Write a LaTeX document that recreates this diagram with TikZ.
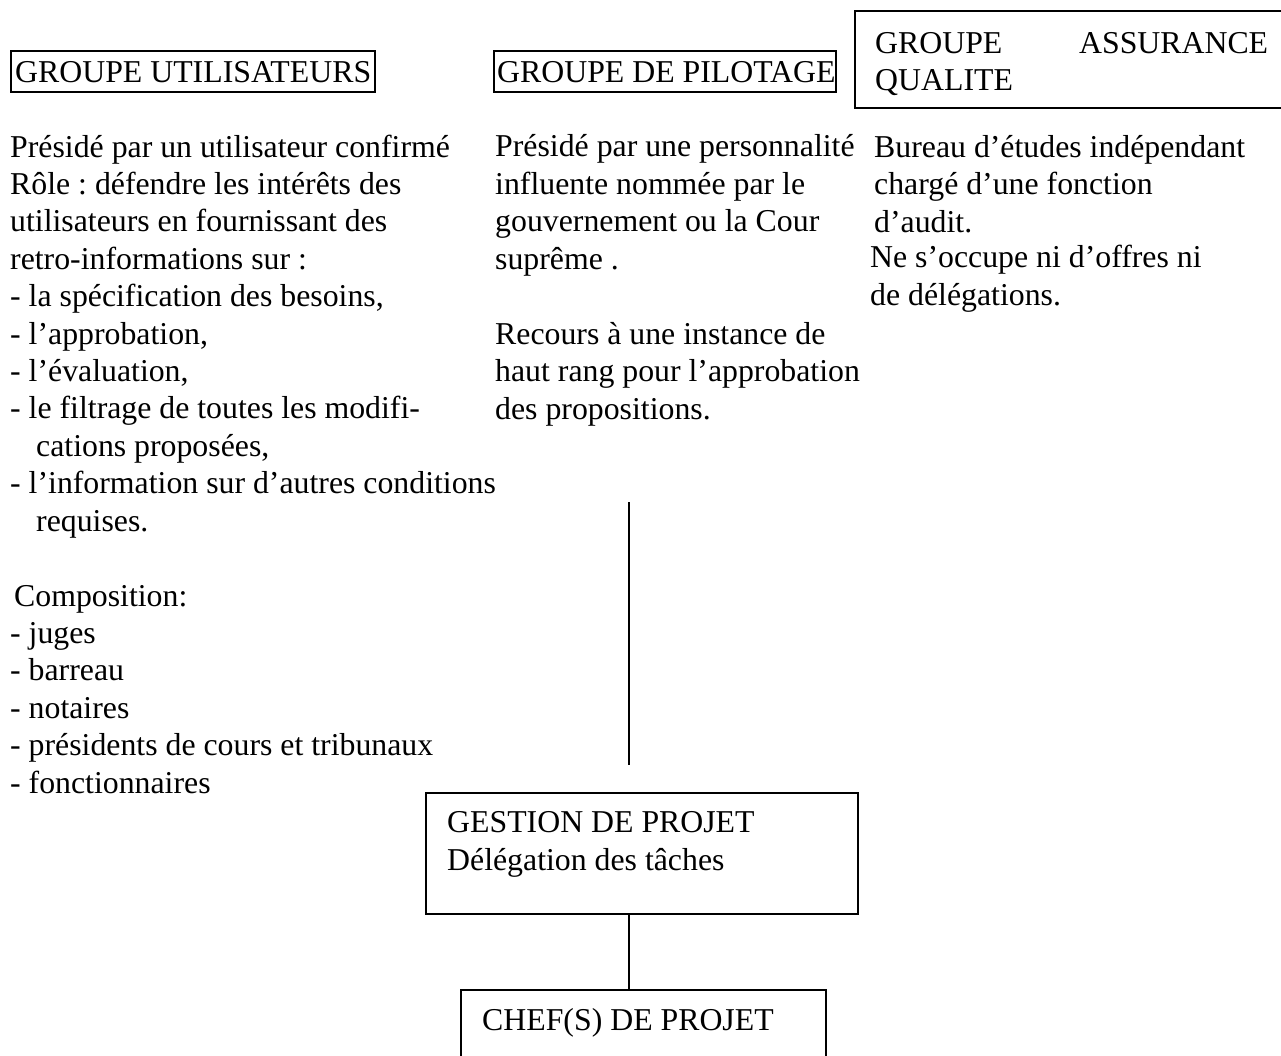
\documentclass[tikz,border=0pt]{standalone}
\usepackage{fontspec}
\setmainfont{Liberation Serif}
\usetikzlibrary{positioning}
\frenchspacing

\tikzset{
  groupbox/.style={draw, line width=1.8pt, inner sep=0pt, anchor=north west},
  txt/.style={anchor=base west, inner sep=0pt, align=left,
    font=\fontsize{31.8}{37.4}\selectfont},
}

\begin{document}
\begin{tikzpicture}[x=1pt,y=-1pt]

      \useasboundingbox (0,0) rectangle (1281,1055);
      \clip (0,0) rectangle (1281,1055);

      % The three groups along the top (text nodes sit on their last baseline)
      \node[groupbox, minimum width=364, minimum height=41] (users) at (10,50) {};
      \node[txt] (userstitle) at (15,82) {GROUPE UTILISATEURS};

      \node[groupbox, minimum width=342, minimum height=41] (pilot) at (493,50) {};
      \node[txt] (pilottitle) at (497,82) {GROUPE DE PILOTAGE};

      % with a text width the node sits on its first baseline
      \node[groupbox, minimum width=440, minimum height=97] (quality) at (854,10) {};
      \node[txt, text width=393] (qualitytitle) at (875,53) {GROUPE\hfill ASSURANCE\\QUALITE};

      % Descriptions below each group
      \node[txt] (usersrole) at (10,531) {Présidé par un utilisateur confirmé\\
        Rôle : défendre les intérêts des\\
        utilisateurs en fournissant des\\
        retro-informations sur :\\
        - la spécification des besoins,\\
        - l’approbation,\\
        - l’évaluation,\\
        - le filtrage de toutes les modifi-\\
        \hspace*{26pt}cations proposées,\\
        - l’information sur d’autres conditions\\
        \hspace*{26pt}requises.};

      \node[txt] (userscomp) at (10,793) {\hspace*{4pt}Composition:\\
        - juges\\
        - barreau\\
        - notaires\\
        - présidents de cours et tribunaux\\
        - fonctionnaires};

      \node[txt] (pilotchair) at (495,269) {Présidé par une personnalité\\
        influente nommée par le\\
        gouvernement ou la Cour\\
        suprême .};

      \node[txt] (pilotappeal) at (495,419) {Recours à une instance de\\
        haut rang pour l’approbation\\
        des propositions.};

      \node[txt] (qualityaudit) at (874,232) {Bureau d’études indépendant\\
        chargé d’une fonction\\
        d’audit.};

      \node[txt] (qualitynote) at (870,305) {Ne s’occupe ni d’offres ni\\
        de délégations.};

      % Project management chain
      \node[groupbox, minimum width=432, minimum height=121] (gestion) at (425,792) {};
      \node[txt] (gestiontitle) at (447,870) {GESTION DE PROJET\\Délégation des tâches};

      \node[groupbox, minimum width=365, minimum height=90] (chef) at (460,989) {};
      \node[txt] (cheftitle) at (482,1030) {CHEF(S) DE PROJET};

      % Links
      \coordinate (stemtop) at (629,502);
      \coordinate (stembot) at (629,765);
      \draw[line width=1.8pt] (stemtop) -- (stembot);
      \draw[line width=1.8pt] (gestion.south -| stemtop) -- (chef.north -| stemtop);

    \end{tikzpicture}
\end{document}
